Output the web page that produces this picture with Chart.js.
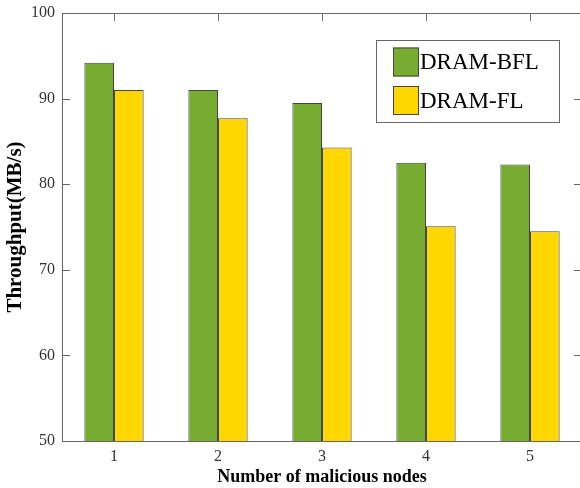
<!DOCTYPE html>
<html>
<head>
<meta charset="utf-8">
<script src="https://cdn.jsdelivr.net/npm/chart.js@4.4.1/dist/chart.umd.min.js"></script>
<style>
  html, body { margin: 0; padding: 0; background: #fff; overflow: hidden; }
</style>
</head>
<body>
<canvas id="chart" width="586" height="488"></canvas>
<script>
// values
const nodeCounts = [1, 2, 3, 4, 5];
const bflThroughput = [94.2, 91.0, 89.5, 82.5, 82.3];
const flThroughput = [91.0, 87.7, 84.3, 75.1, 74.5];
const yTickValues = [50, 60, 70, 80, 90, 100];

const seriesNames = ["DRAM-BFL", "DRAM-FL"];
const seriesColors = ["#77ac30", "#ffd700"];

const serif = "'Liberation Serif', 'Times New Roman', serif";
const axisColor = "#666";
const edgeColor = "#444";

// inward ticks on all four sides, closed box, legend inside the plot
const boxPlugin = {
  id: "boxPlugin",
  beforeDatasetsDraw(chart) {
    const { ctx, chartArea: a, scales: { x, y } } = chart;
    const len = 8;
    ctx.save();
    ctx.strokeStyle = axisColor;
    ctx.lineWidth = 1;
    ctx.beginPath();
    y.ticks.forEach((t) => {
      const py = Math.round(y.getPixelForValue(t.value)) + 0.5;
      ctx.moveTo(a.left, py);
      ctx.lineTo(a.left + len, py);
      ctx.moveTo(a.right, py);
      ctx.lineTo(a.right - len, py);
    });
    x.ticks.forEach((t) => {
      const px = Math.round(x.getPixelForValue(t.value)) + 0.5;
      ctx.moveTo(px, a.top);
      ctx.lineTo(px, a.top + len);
      ctx.moveTo(px, a.bottom);
      ctx.lineTo(px, a.bottom - len);
    });
    ctx.stroke();
    ctx.restore();
  },
  afterDatasetsDraw(chart) {
    const { ctx, chartArea: a } = chart;
    ctx.save();
    ctx.strokeStyle = axisColor;
    ctx.lineWidth = 1;
    ctx.beginPath();
    ctx.moveTo(a.left, Math.round(a.top) + 0.5);
    ctx.lineTo(a.right, Math.round(a.top) + 0.5);
    ctx.moveTo(Math.round(a.right) - 0.5, a.top);
    ctx.lineTo(Math.round(a.right) - 0.5, a.bottom);
    ctx.stroke();

    // legend box
    const bx = 376, by = 40, bw = 183, bh = 82;
    ctx.fillStyle = "#fff";
    ctx.fillRect(bx, by, bw, bh);
    ctx.strokeStyle = axisColor;
    ctx.strokeRect(bx + 0.5, by + 0.5, bw, bh);
    ctx.font = "23px " + serif;
    ctx.textBaseline = "middle";
    ctx.textAlign = "left";
    chart.data.datasets.forEach((ds, i) => {
      const cy = 62 + i * 38.5;
      ctx.fillStyle = ds.backgroundColor;
      ctx.fillRect(393, cy - 14.5, 26, 29);
      ctx.strokeStyle = edgeColor;
      ctx.strokeRect(393.5, cy - 14, 25, 28);
      ctx.fillStyle = "#000";
      ctx.fillText(ds.label, 420, cy + 1);
    });
    ctx.restore();
  },
};

new Chart(document.getElementById("chart"), {
  type: "bar",
  data: {
    datasets: [bflThroughput, flThroughput].map((vals, i) => ({
      label: seriesNames[i],
      data: nodeCounts.map((n, k) => ({ x: n, y: vals[k] })),
      backgroundColor: seriesColors[i],
      borderColor: edgeColor,
      borderWidth: 1,
      borderSkipped: false,
      categoryPercentage: 0.57,
      barPercentage: 1.0,
    })),
  },
  options: {
    responsive: false,
    animation: false,
    layout: { padding: { top: 13, right: 4, bottom: 0, left: 0 } },
    plugins: {
      legend: { display: false },
      tooltip: { enabled: false },
    },
    scales: {
      x: {
        type: "linear",
        min: 0.5,
        max: 5.5,
        offset: false,
        grid: { display: false, drawTicks: false },
        border: { display: true, color: axisColor, width: 1 },
        afterBuildTicks: (scale) => {
          scale.ticks = nodeCounts.map((v) => ({ value: v }));
        },
        afterFit: (scale) => {
          scale.height = 47;
          scale.paddingLeft = 0;
          scale.paddingRight = 0;
        },
        ticks: {
          color: "#333",
          font: { family: serif, size: 16 },
          padding: 6,
          maxRotation: 0,
          callback: (v) => String(v),
        },
        title: {
          display: true,
          text: "Number of malicious nodes",
          color: "#000",
          font: { family: serif, size: 18, weight: "bold" },
          padding: { top: 0, bottom: 0 },
        },
      },
      y: {
        min: 50,
        max: 100,
        grid: { display: false, drawTicks: false },
        border: { display: true, color: axisColor, width: 1 },
        afterBuildTicks: (scale) => {
          scale.ticks = yTickValues.map((v) => ({ value: v }));
        },
        afterFit: (scale) => {
          scale.width = 62;
          scale.paddingTop = 0;
          scale.paddingBottom = 0;
        },
        ticks: {
          color: "#333",
          font: { family: serif, size: 16 },
          padding: 7,
        },
        title: {
          display: true,
          text: "Throughput(MB/s)",
          color: "#000",
          font: { family: serif, size: 21, weight: "bold" },
          padding: { top: 3, bottom: 0 },
        },
      },
    },
  },
  plugins: [boxPlugin],
});
</script>
</body>
</html>
